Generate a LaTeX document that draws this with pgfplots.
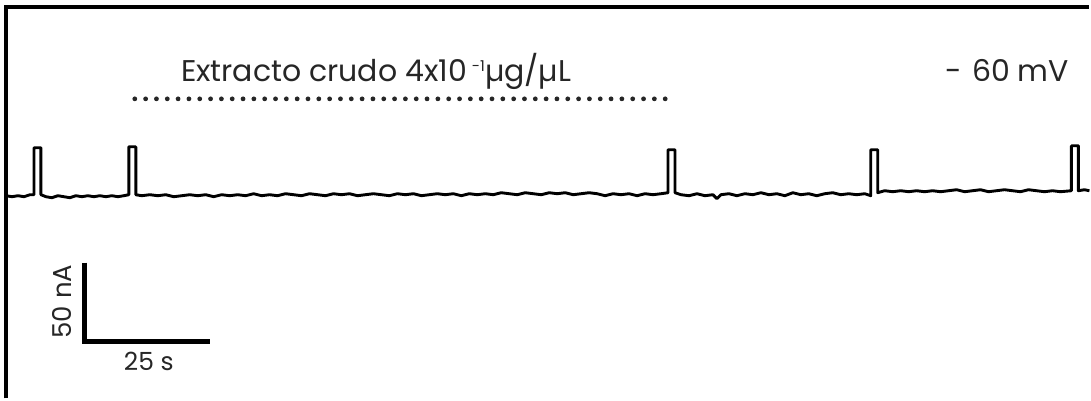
\documentclass[border=0pt]{standalone}
\usepackage{fontspec}
\setmainfont{Poppins}
\usepackage{pgfplots}
\pgfplotsset{compat=1.18}
\begin{document}
\begin{tikzpicture}[x=1pt,y=1pt]
\begin{axis}[
  width=545.5pt, height=199.5pt, scale only axis,
  xmin=0, xmax=1091, ymin=0, ymax=399, y dir=reverse,
  axis lines=none, clip=false,
]
% invisible bounds
\addplot[draw=none] coordinates {(0,0) (1091,399)};
% frame (top and left)
\addplot[black, line width=1.6pt] coordinates {(6,399) (6,7) (1091,7)};
% trace
\addplot[black, line width=1.45pt, line join=round] coordinates {
(6,196) (12,197) (18,196) (24,197) (30,195) (34,195) (34,148) (41,148) (41,195)
(46,197) (52,198) (58,196) (64,197) (70,198) (76,196) (82,197) (88,196) (94,197) (100,196) (106,197) (112,196) (118,197) (124,196) (129,195) (129,147) (136,147) (136,195)
(142,196) (150,195) (158,196) (166,195) (174,197) (182,196) (190,195) (198,196) (206,195) (214,197) (222,195) (230,196) (238,195) (246,196) (254,194) (262,196) (270,195) (278,196) (286,194) (294,195) (302,196) (310,194) (318,195) (326,196) (334,194) (342,195) (350,194) (358,196) (366,195) (374,194) (382,195) (390,196) (398,194) (406,195) (414,194) (422,196) (430,195) (438,194) (446,195) (454,194) (462,196) (470,194) (478,195) (486,194) (494,195) (502,193) (510,194) (518,195) (526,193) (534,194) (542,195) (550,193) (558,194) (566,193) (574,195) (582,194) (590,193) (598,194) (606,196) (614,194) (622,195) (630,194) (638,196) (646,194) (654,195) (662,194) (669,193) (669,150) (676,150) (676,193)
(682,195) (690,196) (698,194) (706,196) (714,195) (718,199) (722,195) (730,194) (738,196) (746,194) (754,195) (762,193) (770,195) (778,194) (786,196) (794,193) (802,195) (810,194) (818,196) (826,194) (834,193) (842,195) (850,194) (858,195) (866,194) (872,196) (872,150) (879,150) (879,193)
(886,191) (894,192) (902,191) (910,192) (918,191) (926,192) (934,191) (942,192) (950,191) (958,190) (966,192) (974,191) (982,190) (990,192) (998,191) (1006,190) (1014,191) (1022,192) (1030,190) (1038,191) (1046,192) (1054,191) (1062,192) (1073,191) (1073,146) (1080,146) (1080,191) (1086,190) (1091,191)
};
% dotted application bar
\addplot[black!85, line width=2.4pt, line cap=round, dash pattern=on 0pt off 5.42pt] coordinates {(135,99) (667,99)};
% scale bar
\addplot[black, line width=2.4pt] coordinates {(85,263) (85,342) (210,342)};
\node[font=\fontsize{15}{17}\selectfont, anchor=base west, text=black!85, inner sep=0pt] at (axis cs:181,82) {Extracto crudo 4x10\,\raisebox{0.65ex}{\fontsize{7.5}{8}\selectfont -1}µg/µL};
\node[font=\fontsize{15}{17}\selectfont, anchor=base east, text=black!85, inner sep=0pt] at (axis cs:1071,82) {-\hspace{0.35em}60 mV};
\node[font=\fontsize{13}{15}\selectfont, rotate=90, text=black!85] at (axis cs:62,302) {50 nA};
\node[font=\fontsize{12.5}{14}\selectfont, text=black!85] at (axis cs:149,362) {25 s};
\end{axis}
\end{tikzpicture}
\end{document}
